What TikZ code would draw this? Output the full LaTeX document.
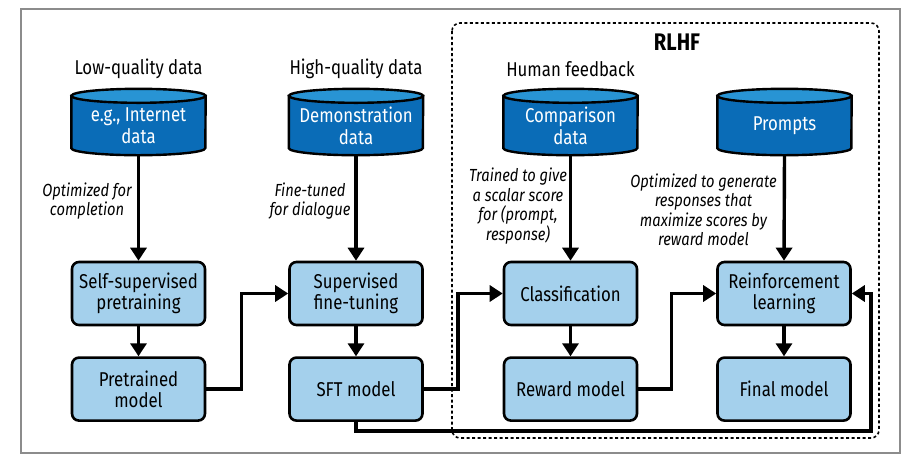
\documentclass[tikz,border=0pt]{standalone}
\usepackage{fontspec}
\setmainfont{Fira Sans}[FakeStretch=0.84]
\usepackage{tikz}
\usetikzlibrary{arrows.meta, positioning, calc, backgrounds}
\usepackage{xcolor}
\definecolor{boxblue}{RGB}{164,208,236}
\definecolor{dbblue}{RGB}{10,108,183}
\definecolor{dbtop}{RGB}{40,148,212}
\definecolor{framegray}{RGB}{140,140,140}

\begin{document}
\begin{tikzpicture}[x=1pt, y=-1pt,
  stage/.style={draw, line width=2.6pt, fill=boxblue, rounded corners=7pt,
    minimum width=133pt, minimum height=63pt, align=center,
    font=\fontsize{20}{21.5}\selectfont},
  db/.style={minimum width=134pt, minimum height=59pt, inner sep=0pt,
    align=center, text=white, font=\fontsize{20}{22}\selectfont},
  head/.style={font=\fontsize{20}{22}\selectfont},
  note/.style={align=center, font=\itshape\fontsize{17.5}{19.5}\selectfont},
  flow/.style={line width=3.4pt, -{Triangle[length=13pt,width=16pt]}}]
  \useasboundingbox (0,0) rectangle (922,467);
  \draw[framegray, line width=1.5pt] (21,9) rectangle (900,453);
  \draw[line width=1.6pt, dash pattern=on 3pt off 2.5pt, rounded corners=8pt] (452,23) rectangle (879,438);
  \node[font=\bfseries\fontsize{24}{26}\selectfont] (rlhf) at (677,42) {RLHF};

  % data sources
  \node[head] (lowq) at (138.5,69) {Low-quality data};
  \node[head] (highq) at (356,69) {High-quality data};
  \node[head] (human) at (570.5,69) {Human feedback};
  \node[db] (web) at (138.5,125.5) {e.g., Internet\\data};
  \node[db] (demo) at (356,125.5) {Demonstration\\data};
  \node[db] (cmp) at (570.5,125.5) {Comparison\\data};
  \node[db] (prm) at (784.5,125.5) {Prompts};
  \begin{scope}[on background layer]
    \foreach \n in {web,demo,cmp,prm} {
      \filldraw[fill=dbblue, line width=2.4pt] (\n.north west) -- ([yshift=7pt]\n.south west)
        arc[start angle=180, end angle=360, x radius=67pt, y radius=7pt] -- (\n.north east) -- cycle;
      \filldraw[fill=dbtop, line width=2.4pt] (\n.north) ellipse[x radius=67pt, y radius=7pt];
    }
  \end{scope}

  % stages
  \node[stage] (ssp) at (138.5,293.5) {Self-supervised\\pretraining};
  \node[stage, below=30pt of ssp] (ptm) {Pretrained\\model};
  \node[stage] (sft) at (356,293.5) {Supervised\\fine-tuning};
  \node[stage, below=30pt of sft] (sftm) {SFT model};
  \node[stage] (cls) at (570.5,293.5) {Classification};
  \node[stage, below=30pt of cls] (rwd) {Reward model};
  \node[stage] (rl) at (784,293.5) {Reinforcement\\learning};
  \node[stage, below=30pt of rl] (fin) {Final model};

  \node[note] (optc) at (87,201) {Optimized for\\completion};
  \node[note] (fdlg) at (310,201) {Fine-tuned\\for dialogue};
  \node[note] (scal) at (518,206) {Trained to give\\a scalar score\\for (prompt,\\response)};
  \node[note] (maxs) at (703.5,210) {Optimized to generate\\responses that\\maximize scores by\\reward model};

  \draw[flow] (web.south) -- (ssp.north);
  \draw[flow] (demo.south) -- (sft.north);
  \draw[flow] (cmp.south) -- (cls.north);
  \draw[flow] (prm.south) -- (rl.north);
  \foreach \a/\b in {ssp/ptm, sft/sftm, cls/rwd, rl/fin}
    \draw[flow] (\a) -- (\b);
  \draw[flow] (ptm.east) -- ++(35,0) |- (sft.west);
  \draw[flow] (sftm.east) -- ++(34,0) |- (cls.west);
  \draw[flow] (rwd.east) -- ++(33,0) |- (rl.west);
  \coordinate (back) at (871,431);
  \draw[flow] (sftm.south) |- (back) |- (rl.east);
\end{tikzpicture}
\end{document}
